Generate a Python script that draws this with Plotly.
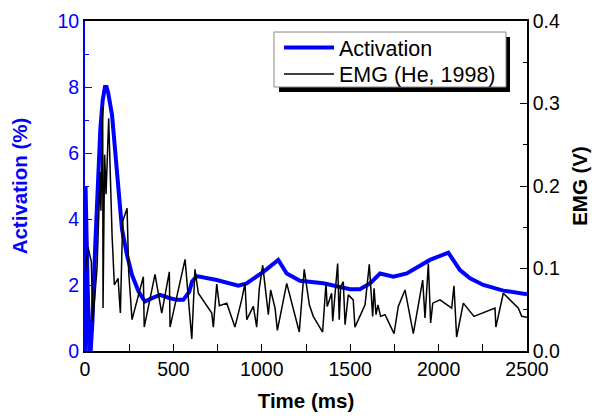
import plotly.graph_objects as go

# Activation (%) vs time (ms)
act_t = [0, 3, 14, 24, 32, 42, 58, 74, 87, 100, 113, 122, 132, 153, 172, 190, 209, 238, 266, 303,
         339, 380, 424, 481, 520, 556, 590, 605, 632, 745, 867, 914, 1009, 1093, 1141, 1216, 1348,
         1499, 1555, 1612, 1669, 1744, 1820, 1951, 2055, 2121, 2178, 2253, 2366, 2500]
act_v = [0.0, 5.0, 2.2, 0.0, 0.0, 0.9, 3.2, 5.2, 6.75, 7.6, 8.0, 8.0, 7.8, 7.15, 6.0, 4.7, 3.7, 2.9, 2.3, 1.8,
         1.5, 1.6, 1.7, 1.6, 1.55, 1.55, 1.8, 2.1, 2.27, 2.15, 1.98, 2.05, 2.4, 2.76, 2.35, 2.13, 2.05,
         1.87, 1.87, 2.05, 2.35, 2.25, 2.35, 2.76, 2.98, 2.45, 2.2, 2.0, 1.83, 1.72]

# EMG (V) vs time (ms)
emg_t = [2, 17, 36, 44, 68, 86, 90, 100, 102, 111, 119, 134, 153, 166, 187, 200, 213, 238, 247, 266,
         330, 335, 396, 434, 477, 481, 566, 604, 622, 641, 717, 726, 745, 760, 802, 848, 886, 905,
         915, 952, 971, 986, 1005, 1037, 1050, 1075, 1088, 1141, 1212, 1240, 1269, 1291, 1344, 1363,
         1370, 1395, 1401, 1414, 1429, 1438, 1446, 1461, 1471, 1489, 1517, 1527, 1584, 1608, 1627,
         1635, 1646, 1657, 1672, 1697, 1748, 1772, 1810, 1857, 1910, 1923, 1942, 1955, 1967, 2008,
         2074, 2087, 2102, 2140, 2200, 2319, 2324, 2366, 2451, 2470, 2500]
emg_v = [0.096, 0.126, 0.108, 0.036, 0.100, 0.217, 0.170, 0.296, 0.052, 0.238, 0.190, 0.282, 0.141,
         0.080, 0.088, 0.046, 0.157, 0.173, 0.096, 0.038, 0.090, 0.029, 0.093, 0.046, 0.096, 0.029,
         0.111, 0.0145, 0.099, 0.070, 0.046, 0.029, 0.081, 0.055, 0.058, 0.029, 0.062, 0.082, 0.038,
         0.054, 0.029, 0.076, 0.104, 0.044, 0.074, 0.052, 0.025, 0.082, 0.023, 0.099, 0.056, 0.042,
         0.023, 0.082, 0.054, 0.070, 0.036, 0.074, 0.106, 0.038, 0.078, 0.084, 0.032, 0.068, 0.062,
         0.029, 0.056, 0.105, 0.042, 0.076, 0.044, 0.056, 0.042, 0.044, 0.021, 0.054, 0.074, 0.021,
         0.086, 0.040, 0.106, 0.034, 0.058, 0.062, 0.052, 0.079, 0.017, 0.058, 0.042, 0.052, 0.029,
         0.070, 0.052, 0.042, 0.041]

x_ticks = [0, 500, 1000, 1500, 2000, 2500]
y1_ticks = [0, 2, 4, 6, 8, 10]
y2_ticks = [0.0, 0.1, 0.2, 0.3, 0.4]

BLUE = "#0000ff"
FONT = "Liberation Sans, Arial, sans-serif"

fig = go.Figure()
fig.add_trace(go.Scatter(x=act_t, y=act_v, mode="lines", name="Activation",
                         line=dict(color=BLUE, width=4), legend="legend"))
fig.add_trace(go.Scatter(x=emg_t, y=emg_v, mode="lines", name="EMG (He, 1998)",
                         line=dict(color="black", width=1.5), yaxis="y2", legend="legend2"))

L, R, T, B = 85, 75, 21, 66
W, H = 602, 417
pw, ph = W - L - R, H - T - B

def px(x):
    return (x - L) / pw

def py(y):
    return (H - B - y) / ph

# legend shadow and box
fig.add_shape(type="rect", xref="paper", yref="paper", layer="above",
              x0=px(279), x1=px(510), y0=py(92), y1=py(37),
              fillcolor="black", line=dict(width=0))
fig.add_shape(type="rect", xref="paper", yref="paper", layer="above",
              x0=px(274), x1=px(506), y0=py(87), y1=py(32),
              fillcolor="white", line=dict(color="#888888", width=1))

leg_common = dict(xanchor="left", yanchor="top", bgcolor="rgba(0,0,0,0)", borderwidth=0,
                  itemwidth=50, font=dict(size=21.5, color="black"))

fig.update_layout(
    width=W, height=H,
    margin=dict(l=L, r=R, t=T, b=B, autoexpand=False),
    paper_bgcolor="white", plot_bgcolor="white",
    font=dict(family=FONT, size=19, color="black"),
    showlegend=True,
    legend=dict(x=px(279), y=py(27), **leg_common),
    legend2=dict(x=px(279), y=py(53.5), **leg_common),
    xaxis=dict(range=[0, 2500], tickvals=x_ticks, ticktext=[str(v) for v in x_ticks],
               ticks="inside", ticklen=7, tickcolor="black", tickwidth=1, automargin=False,
               minor=dict(tickvals=[250, 750, 1250, 1750, 2250], ticks="inside", ticklen=7,
                          tickcolor="black"),
               showline=True, linecolor="black", linewidth=1.5, mirror=True,
               showgrid=False, zeroline=False,
               tickfont=dict(size=19.5, color="black"),
               title=dict(text="<b>Time (ms)</b>", font=dict(size=20.5, color="black"), standoff=14)),
    yaxis=dict(range=[0, 10], tickvals=y1_ticks, ticks="inside", ticklen=7, tickcolor=BLUE,
               automargin=False,
               minor=dict(tickvals=[1, 3, 5, 7, 9], ticks="inside", ticklen=4, tickcolor=BLUE),
               showline=True, linecolor=BLUE, linewidth=2,
               showgrid=False, zeroline=False,
               tickfont=dict(size=19.5, color=BLUE),
               title=dict(text="<b>Activation (%)</b>", font=dict(size=20.5, color=BLUE), standoff=24)),
    yaxis2=dict(range=[0, 0.4], tickvals=y2_ticks, ticktext=["%.1f" % v for v in y2_ticks],
                overlaying="y", side="right", automargin=False,
                ticks="inside", ticklen=7, tickcolor="black",
                minor=dict(tickvals=[0.05, 0.15, 0.25, 0.35], ticks="inside", ticklen=4,
                           tickcolor="black"),
                showline=True, linecolor="black", linewidth=1.5,
                showgrid=False, zeroline=False,
                tickfont=dict(size=19.5, color="black"),
                title=dict(text="<b>EMG (V)</b>", font=dict(size=20.5, color="black"), standoff=14)),
)

fig.write_html("out.html")
